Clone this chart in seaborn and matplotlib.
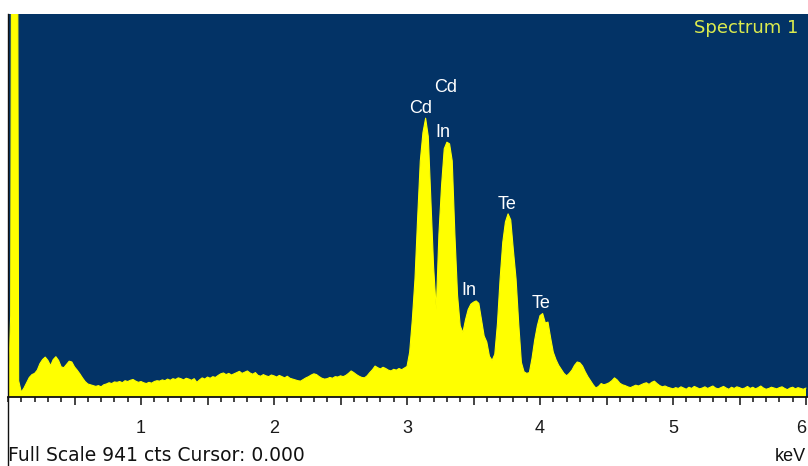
import numpy as np
import pandas as pd
import matplotlib
matplotlib.use("Agg")
import matplotlib.pyplot as plt
from matplotlib.ticker import MultipleLocator, FixedLocator
from matplotlib.lines import Line2D
import seaborn as sns

# ---- data ----
energy_step = 0.02  # keV per channel
counts = [
    5, 200, 3000, 3000, 40, 12, 22, 35, 48, 55,
    58, 66, 82, 92, 98, 90, 77, 92, 99, 90,
    74, 72, 80, 88, 86, 74, 66, 57, 47, 38,
    32, 30, 28, 26, 28, 25, 30, 32, 35, 33,
    37, 36, 38, 35, 40, 38, 41, 43, 39, 36,
    38, 35, 33, 36, 34, 38, 40, 39, 42, 40,
    44, 41, 45, 43, 47, 45, 42, 46, 44, 41,
    45, 36, 42, 47, 44, 49, 46, 50, 48, 53,
    57, 59, 55, 58, 54, 57, 60, 63, 58, 61,
    64, 59, 56, 60, 53, 51, 55, 52, 50, 54,
    52, 49, 53, 50, 47, 51, 46, 44, 42, 40,
    39, 43, 47, 50, 54, 57, 55, 50, 46, 44,
    45, 48, 46, 50, 49, 52, 50, 53, 58, 64,
    60, 55, 51, 48, 47, 52, 60, 67, 76, 72,
    69, 73, 70, 66, 64, 68, 66, 70, 67, 71,
    75, 110, 190, 290, 440, 580, 650, 685, 640, 480,
    320, 215, 400, 520, 610, 626, 622, 580, 400, 250,
    175, 158, 190, 215, 228, 233, 236, 230, 190, 150,
    135, 100, 90, 105, 180, 290, 380, 430, 450, 435,
    360, 290, 180, 85, 62, 58, 60, 95, 140, 175,
    200, 205, 182, 184, 145, 110, 92, 78, 68, 58,
    52, 58, 66, 78, 86, 84, 76, 62, 50, 40,
    30, 22, 26, 33, 30, 32, 35, 40, 47, 42,
    34, 30, 28, 25, 23, 26, 29, 27, 30, 33,
    35, 31, 36, 39, 33, 28, 25, 27, 24, 22,
    20, 23, 21, 25, 22, 19, 24, 21, 26, 23,
    20, 22, 25, 21, 24, 27, 22, 20, 23, 26,
    22, 19, 24, 21, 25, 23, 20, 22, 26, 21,
    24, 20, 23, 27, 22, 19, 21, 24, 22, 20,
    23, 25, 21, 18, 22, 24, 20, 23, 21, 19,
    22,
]
energy = [round(i * energy_step, 2) for i in range(len(counts))]

peak_labels = ["Cd", "Cd", "In", "Te", "In", "Te"]
peak_label_energy = [3.105, 3.293, 3.267, 3.75, 3.462, 4.009]
peak_label_counts = [697, 749, 640, 463, 251, 219]

tick_values = [1, 2, 3, 4, 5, 6]
full_scale = 941
cursor = 0.000
spectrum_name = "Spectrum 1"

df = pd.DataFrame({"Energy (keV)": energy, "Counts": counts})

# ---- styling ----
navy = "#033366"
yellow = "#ffff00"

sns.set_theme(style="white")
plt.rcParams["font.family"] = ["Liberation Sans", "DejaVu Sans"]

W, H = 808, 466
fig = plt.figure(figsize=(W / 100, H / 100), dpi=100)
fig.patch.set_facecolor("white")

ax_left, ax_right, ax_top, ax_bottom = 8, 808, 14, 397
ax = fig.add_axes([ax_left / W, 1 - ax_bottom / H,
                   (ax_right - ax_left) / W, (ax_bottom - ax_top) / H])
ax.set_facecolor(navy)

ax.fill_between(df["Energy (keV)"], 0, df["Counts"], color=yellow, linewidth=0)
sns.lineplot(data=df, x="Energy (keV)", y="Counts", ax=ax, color=yellow,
             linewidth=0.8, legend=False)

ax.set_xlim(0, 6.015)
ax.set_ylim(0, full_scale)
ax.set_xlabel("")
ax.set_ylabel("")
ax.set_yticks([])

major_pos = [v / 2 for v in range(1, 13)]
ax.xaxis.set_major_locator(FixedLocator(major_pos))
ax.set_xticklabels([str(int(p)) if float(p).is_integer() and int(p) in tick_values else ""
                    for p in major_pos])
ax.xaxis.set_minor_locator(MultipleLocator(0.1))
ax.tick_params(axis="x", which="major", direction="out", length=6, width=1.2,
               color="#222222", pad=10.5, labelsize=13, labelcolor="#1a1a1a",
               bottom=True)
ax.tick_params(axis="x", which="minor", direction="out", length=3.5, width=1.2,
               color="#222222", bottom=True)
# the last label sits at the right edge: keep it inside the figure
ax.get_xticklabels()[-1].set_horizontalalignment("right")

for s in ["top", "right"]:
    ax.spines[s].set_visible(False)
ax.spines["bottom"].set_color("#111111")
ax.spines["bottom"].set_linewidth(1.3)
ax.spines["left"].set_color("#111111")
ax.spines["left"].set_linewidth(1.0)

# left border continuing below the axis
fig.add_artist(Line2D([ax_left / W, ax_left / W], [0, 1 - ax_bottom / H],
                      transform=fig.transFigure, color="#111111", linewidth=1.0))

for lab, e, c in zip(peak_labels, peak_label_energy, peak_label_counts):
    ax.text(e, c, lab, color="white", fontsize=13, ha="center", va="baseline")

fig.text(798 / W, 1 - 33 / H, spectrum_name, color="#dceb4e", fontsize=13,
         ha="right", va="baseline", family=["DejaVu Sans"])

fig.text(8 / W, 1 - 461 / H, f"Full Scale {full_scale} cts Cursor: {cursor:.3f}",
         color="#111111", fontsize=13.5, ha="left", va="baseline",
         family=["DejaVu Sans"])
fig.text(806 / W, 1 - 461 / H, "keV", color="#111111", fontsize=13,
         ha="right", va="baseline")

fig.savefig("out.png", dpi=100, facecolor="white")
